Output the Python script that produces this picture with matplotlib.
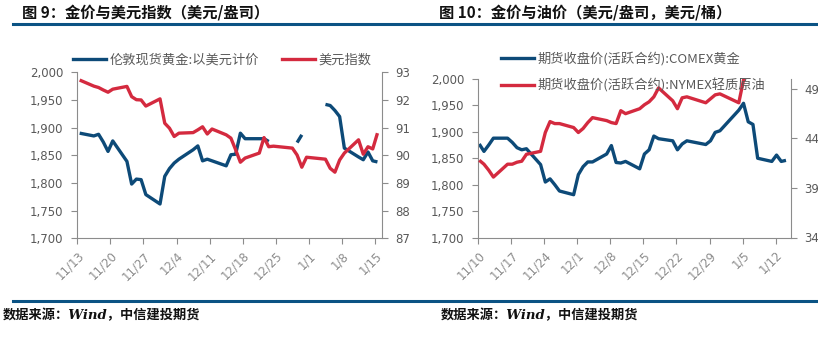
import numpy as np
import pandas as pd
import matplotlib
matplotlib.use("Agg")
import matplotlib.pyplot as plt
import matplotlib.transforms as mtransforms
from matplotlib.ticker import FuncFormatter
from matplotlib.lines import Line2D

plt.rcParams['font.family'] = ['Noto Sans CJK SC', 'DejaVu Sans']

# ---- left chart: London spot gold vs US dollar index ----
left_dates = ["2020-11-13", "2020-11-16", "2020-11-17", "2020-11-18", "2020-11-19", "2020-11-20",
              "2020-11-23", "2020-11-24", "2020-11-25", "2020-11-26", "2020-11-27",
              "2020-11-30", "2020-12-01", "2020-12-02", "2020-12-03", "2020-12-04",
              "2020-12-07", "2020-12-08", "2020-12-09", "2020-12-10", "2020-12-11",
              "2020-12-14", "2020-12-15", "2020-12-16", "2020-12-17", "2020-12-18",
              "2020-12-21", "2020-12-22", "2020-12-23", "2020-12-24",
              "2020-12-28", "2020-12-29", "2020-12-30", "2020-12-31",
              "2021-01-04", "2021-01-05", "2021-01-06", "2021-01-07", "2021-01-08",
              "2021-01-11", "2021-01-12", "2021-01-13", "2021-01-14", "2021-01-15"]
gold_spot = [1890, 1885, 1888, 1874, 1857, 1876,
             1839, 1798, 1807, 1806, 1779,
             1762, 1812, 1826, 1836, 1843,
             1860, 1867, 1840, 1843, 1840,
             1831, 1851, 1852, 1890, 1880,
             1880, 1880, 1875, np.nan,
             np.nan, 1873, 1887, np.nan,
             1942, 1940, 1931, 1920, 1863,
             1847, 1842, 1856, 1840, 1838]
usd_index = [92.72, 92.50, 92.45, 92.36, 92.28, 92.39,
             92.49, 92.12, 92.01, 92.00, 91.78,
             92.04, 91.16, 90.98, 90.68, 90.80,
             90.82, 90.92, 91.03, 90.77, 90.95,
             90.74, 90.62, 90.20, 89.75, 89.90,
             90.08, 90.64, 90.31, 90.33,
             90.26, 90.01, 89.57, 89.93,
             89.86, 89.53, 89.39, 89.83, 90.08,
             90.56, 90.04, 90.31, 90.23, 90.80]
left_ticks = ["11/13", "11/20", "11/27", "12/4", "12/11", "12/18", "12/25", "1/1", "1/8", "1/15"]

# ---- right chart: COMEX gold vs NYMEX crude ----
right_dates = ["2020-11-10", "2020-11-11", "2020-11-12", "2020-11-13",
               "2020-11-16", "2020-11-17", "2020-11-18", "2020-11-19", "2020-11-20",
               "2020-11-23", "2020-11-24", "2020-11-25", "2020-11-26", "2020-11-27",
               "2020-11-30", "2020-12-01", "2020-12-02", "2020-12-03", "2020-12-04",
               "2020-12-07", "2020-12-08", "2020-12-09", "2020-12-10", "2020-12-11",
               "2020-12-14", "2020-12-15", "2020-12-16", "2020-12-17", "2020-12-18",
               "2020-12-21", "2020-12-22", "2020-12-23", "2020-12-24",
               "2020-12-28", "2020-12-29", "2020-12-30", "2020-12-31",
               "2021-01-04", "2021-01-05", "2021-01-06", "2021-01-07", "2021-01-08",
               "2021-01-11", "2021-01-12", "2021-01-13", "2021-01-14"]
comex_gold = [1877, 1863, 1875, 1888,
              1888, 1880, 1870, 1866, 1868,
              1838, 1805, 1811, 1800, 1788,
              1781, 1819, 1834, 1843, 1843,
              1858, 1874, 1842, 1841, 1844,
              1830, 1858, 1866, 1892, 1887,
              1883, 1866, 1877, 1883,
              1876, 1883, 1899, 1902,
              1941, 1954, 1919, 1914, 1850,
              1844, 1856, 1844, 1846]
nymex_oil = [41.8, 41.4, 40.8, 40.1,
             41.4, 41.4, 41.6, 41.7, 42.4,
             42.7, 44.6, 45.7, 45.5, 45.5,
             45.1, 44.6, 45.0, 45.6, 46.1,
             45.8, 45.6, 45.5, 46.8, 46.5,
             47.0, 47.4, 47.7, 48.2, 49.1,
             47.8, 47.0, 48.1, 48.2,
             47.6, 48.0, 48.4, 48.5,
             47.6, 49.9, 50.6, np.nan, np.nan,
             np.nan, np.nan, np.nan, np.nan]
right_ticks = ["11/10", "11/17", "11/24", "12/1", "12/8", "12/15", "12/22", "12/29", "1/5", "1/12"]

blue = "#0D4A78"
red = "#D42A3F"
axis_gray = "#8C8C8C"
text_gray = "#595959"
rule_blue = "#0B5384"
tick_fs = 8.5

W, H = 818, 337
fig = plt.figure(figsize=(W / 100, H / 100), dpi=100)


def box(x0, y0, x1, y1):
    return [x0 / W, 1 - y1 / H, (x1 - x0) / W, (y1 - y0) / H]


def style(ax, side):
    for s in ["top", "left", "right", "bottom"]:
        ax.spines[s].set_visible(False)
    ax.spines[side].set_visible(True)
    ax.spines[side].set_color(axis_gray)
    ax.tick_params(axis="y", colors=axis_gray, labelcolor=text_gray, length=4,
                   labelsize=tick_fs, direction="out", pad=6)
    for lab in ax.get_yticklabels():
        lab.set_fontfamily("DejaVu Sans")


comma = FuncFormatter(lambda v, p: "{:,.0f}".format(v))
label_shift = mtransforms.ScaledTranslation(5 / 100, -4 / 100, fig.dpi_scale_trans)


def draw_panel(rect, dates, s1, s2, ylim2, yticks2, tick_labels, shift, xmax):
    days = (pd.to_datetime(dates) - pd.to_datetime(dates[0])).days.values
    ax = fig.add_axes(rect)
    ax.plot(days, s1, color=blue, lw=2.4, solid_capstyle="butt")
    ax.set_ylim(1700, 2000)
    ax.set_yticks(np.arange(1700, 2001, 50))
    ax.yaxis.set_major_formatter(comma)
    ax.set_xlim(-shift, xmax)
    ax.set_xticks(np.arange(len(tick_labels)) * 7 - shift)
    ax.set_xticklabels(tick_labels, rotation=45, ha="right", va="top",
                       rotation_mode="anchor", fontfamily="DejaVu Sans",
                       fontsize=tick_fs, color=text_gray)
    for lab in ax.get_xticklabels():
        lab.set_transform(lab.get_transform() + label_shift)
    ax.patch.set_visible(False)
    style(ax, "left")
    ax.spines["bottom"].set_visible(True)
    ax.spines["bottom"].set_color(axis_gray)
    ax.tick_params(axis="x", colors=axis_gray, length=4, pad=4)
    ax2 = ax.twinx()
    ax2.plot(days, s2, color=red, lw=2.4, solid_capstyle="butt")
    ax2.set_ylim(*ylim2)
    ax2.set_yticks(yticks2)
    style(ax2, "right")
    ax2.set_xlim(-shift, xmax)
    return ax, ax2


axL, axL2 = draw_panel(box(77.3, 72.3, 381.7, 238.3), left_dates, gold_spot, usd_index,
                       (87, 93), np.arange(87, 94, 1), left_ticks, 0.5, 63.9)
axR, axR2 = draw_panel(box(478.3, 79, 790.7, 237.5), right_dates, comex_gold, nymex_oil,
                       (34, 50), [34, 39, 44, 49], right_ticks, 0.2, 66.0)

# legends
hL = [Line2D([], [], color=blue, lw=2.4), Line2D([], [], color=red, lw=2.4)]
fig.legend(hL, ["伦敦现货黄金:以美元计价", "美元指数"], ncol=2, frameon=False,
           loc="center left", bbox_to_anchor=(73 / W, 1 - 60 / H), fontsize=9.5,
           labelcolor=text_gray, handlelength=2.5, handletextpad=0.3,
           columnspacing=1.7, borderaxespad=0, borderpad=0)
fig.legend(hL, ["期货收盘价(活跃合约):COMEX黄金", "期货收盘价(活跃合约):NYMEX轻质原油"],
           ncol=1, frameon=False, loc="center left", bbox_to_anchor=(501 / W, 1 - 72 / H),
           fontsize=9.5, labelcolor=text_gray, handlelength=2.5, handletextpad=0.3,
           labelspacing=0.98, borderaxespad=0, borderpad=0)

# titles, rules, source notes
fig.text(22 / W, 1 - 12 / H, "图 9：金价与美元指数（美元/盎司）", fontsize=11,
         fontweight="bold", va="center", ha="left", color="#111111")
fig.text(439 / W, 1 - 12 / H, "图 10：金价与油价（美元/盎司，美元/桶）", fontsize=11,
         fontweight="bold", va="center", ha="left", color="#111111")
for yy in (23.5, 300.7):
    fig.add_artist(Line2D([13 / W, 1], [1 - yy / H, 1 - yy / H], color=rule_blue, lw=2.2))
for sx in (3, 441):
    fig.text(sx / W, 1 - 315 / H, "数据来源：Wind，中信建投期货", fontsize=9.5,
             fontweight="bold", fontstyle="italic", family=["DejaVu Serif", "Noto Sans CJK SC"],
             va="center", ha="left", color="#111111")

fig.savefig("out.png", dpi=100)
